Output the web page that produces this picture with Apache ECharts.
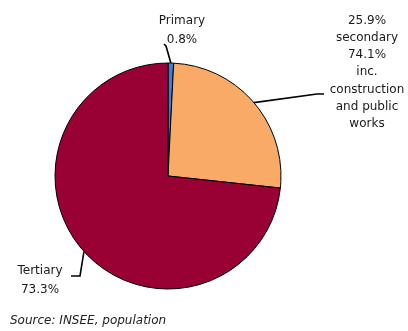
<!DOCTYPE html>
<html>
<head>
<meta charset="utf-8">
<script src="https://cdn.jsdelivr.net/npm/echarts@6/dist/echarts.min.js"></script>
<style>
    html,body{margin:0;padding:0;background:#fff;}
    #chart{width:408px;height:331px;}
</style>
</head>
<body>
<div id="chart"></div>
<script>
var categories = ['Primary', 'Secondary', 'Tertiary'];
var values = [0.8, 25.9, 73.3];
var labelTexts = [
    'Primary\n0.8%',
    '25.9%\nsecondary\n74.1%\ninc.\nconstruction\nand public\nworks',
    'Tertiary\n73.3%'
];
var sourceText = 'Source: INSEE, population';

var colors = ['#3b7fd6', '#f9aa66', '#990033'];
// label placement: centre x, top y, line height
var labelPos = [[182, 11, 19], [367, 12, 17.2], [40, 261, 19]];
// leader line bend and end points
var guideEnds = [
    [[166, 46], [164, 44]],
    [[317, 94], [324, 94]],
    [[80, 276], [71, 276]]
];

var myChart = echarts.init(document.getElementById('chart'));
var option = {
    animation: false,
    color: colors,
    title: {
        text: sourceText,
        left: 5,
        top: 310,
        textStyle: {
            fontFamily: 'DejaVu Sans',
            fontSize: 12,
            fontStyle: 'italic',
            fontWeight: 'normal',
            color: '#222'
        }
    },
    series: [{
        type: 'pie',
        center: [168, 176],
        radius: 113,
        startAngle: 90,
        clockwise: true,
        itemStyle: {
            borderColor: '#000',
            borderWidth: 1
        },
        label: {
            show: true,
            position: 'outside',
            overflow: 'none',
            fontFamily: 'DejaVu Sans',
            fontSize: 12,
            color: '#1a1a1a',
            align: 'center',
            formatter: function (p) {
                return labelTexts[p.dataIndex];
            }
        },
        labelLine: {
            show: true,
            lineStyle: {color: '#000', width: 1.6}
        },
        labelLayout: function (p) {
            var pos = labelPos[p.dataIndex];
            var g = guideEnds[p.dataIndex];
            var start = p.labelLinePoints ? p.labelLinePoints[0] : g[0];
            return {
                x: pos[0],
                y: pos[1],
                width: 120,
                align: 'center',
                verticalAlign: 'top',
                labelLinePoints: [start, g[0], g[1]]
            };
        },
        data: categories.map(function (c, i) {
            return {
                name: c,
                value: values[i],
                label: {lineHeight: labelPos[i][2]}
            };
        })
    }]
};
myChart.setOption(option, true);
</script>
</body>
</html>
